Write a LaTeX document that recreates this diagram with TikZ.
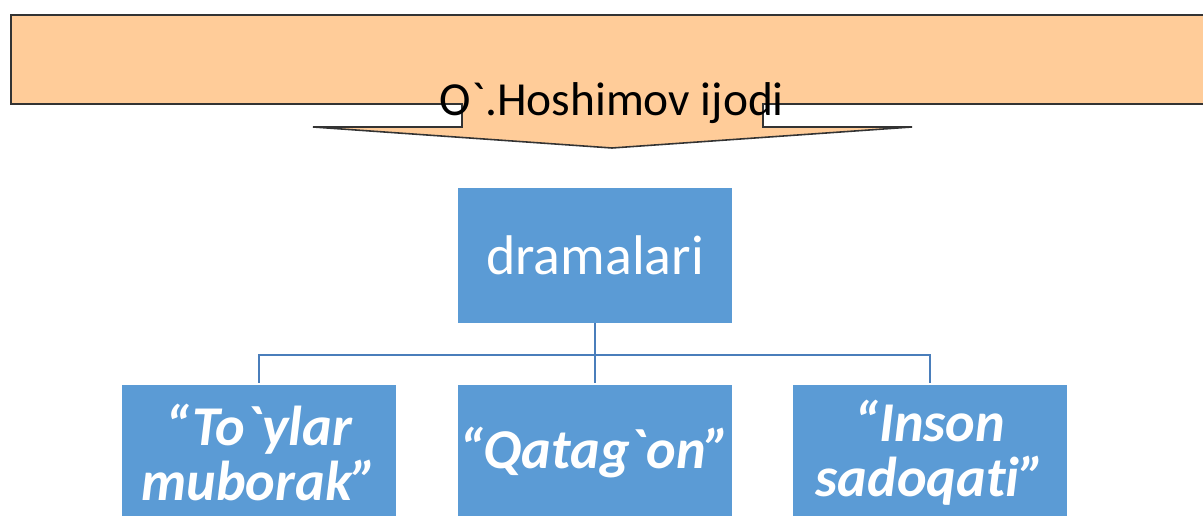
\documentclass[tikz,border=0pt]{standalone}
\usepackage{fontspec}
\setmainfont{Carlito}[Ligatures={TeX,NoCommon}]

\definecolor{peach}{HTML}{FFCC99}
\definecolor{boxblue}{HTML}{5B9BD5}
\definecolor{linkblue}{HTML}{4A7EBB}

\tikzset{
  banner/.style={fill=peach, draw=black!80, line width=0.9pt, line join=miter},
  title/.style={anchor=base, inner sep=0pt, font=\fontsize{27}{32}\selectfont},
  box/.style={fill=boxblue, text=white, minimum width=5.5cm, minimum height=2.7cm, inner sep=0pt, align=center},
  head/.style={box, font=\fontsize{31.8}{38}\selectfont},
  play/.style={box, font=\bfseries\itshape\fontsize{32}{31.5}\selectfont},
  link/.style={draw=linkblue, line width=1.1pt}
}

\begin{document}
\begin{tikzpicture}[x=0.02cm, y=-0.02cm]

    % Frame of the picture (the banner runs past the right edge)
    \useasboundingbox (0,0) rectangle (1203,516);
    \clip (0,0) rectangle (1203,516);

    % Banner with a down arrow under it
    \draw[banner] (11,15) -- (1213,15) -- (1213,104) -- (763,104) -- (763,127) -- (912,127)
        -- (612,148) -- (313,127) -- (462,127) -- (462,104) -- (11,104) -- cycle;

    % Title of the banner
    \node[title] (title) at (612,116) {O\textasciigrave.Hoshimov ijodi};

    % Main box
    \node[head] (drama) at (595,255.5) {dramalari};

    % The three plays
    \node[play] (toylar) at (259,452.5) {“To\textasciigrave ylar\\muborak”};
    \node[play] (qatagon) at (595,452.5) {“Qatag\textasciigrave on”};
    \node[play] (inson) at (930,452.5) {“Inson\\sadoqati”};

    % Tree lines
    \coordinate (fork) at (595,355);
    \draw[link] (drama.south) -- (fork);
    \draw[link] (fork) -| ([yshift=0.04cm]toylar.north);
    \draw[link] (fork) -| ([yshift=0.04cm]inson.north);
    \draw[link] (fork) -- ([yshift=0.04cm]qatagon.north);
\end{tikzpicture}
\end{document}
